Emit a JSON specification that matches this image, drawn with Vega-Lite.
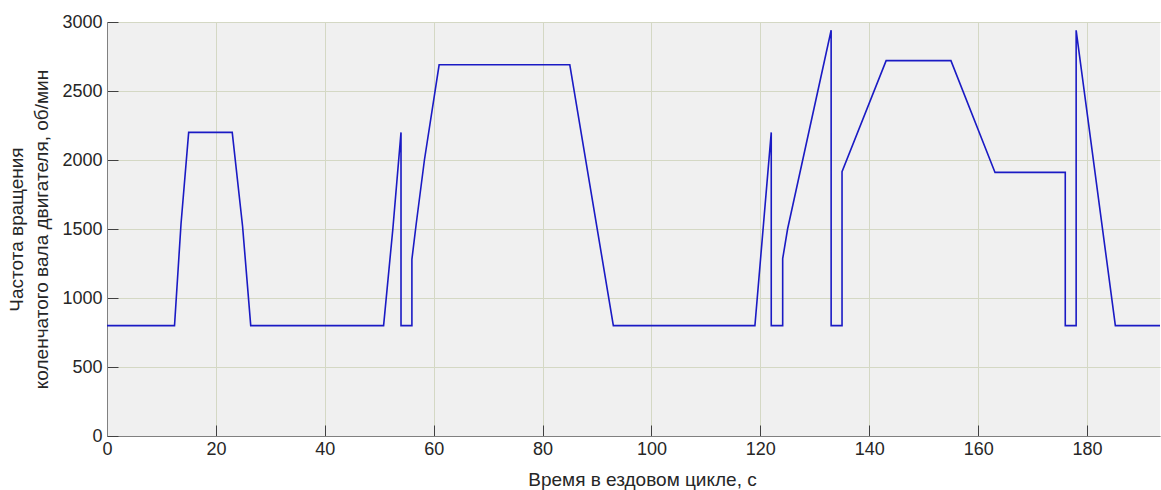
{
  "$schema": "https://vega.github.io/schema/vega-lite/v6.json",
  "width": 1053,
  "height": 414,
  "autosize": {"type": "none"},
  "padding": {"left": 107, "top": 22, "right": 1, "bottom": 54},
  "background": "white",
  "config": {
    "view": {"stroke": null, "fill": "#f0f0f0"},
    "font": "Liberation Sans",
    "axis": {
      "labelFont": "Liberation Sans",
      "titleFont": "Liberation Sans",
      "labelFontSize": 18,
      "titleFontSize": 19,
      "titleFontWeight": "normal",
      "labelColor": "#262626",
      "titleColor": "#262626",
      "gridColor": "#d4d8c4",
      "gridWidth": 1,
      "domainColor": "#808080",
      "tickColor": "#404040",
      "tickSize": -11
    }
  },
  "data": {
    "values": [
      {"i": 0, "t": 0, "rpm": 800},
      {"i": 1, "t": 12.4, "rpm": 800},
      {"i": 2, "t": 13.6, "rpm": 1540},
      {"i": 3, "t": 15, "rpm": 2200},
      {"i": 4, "t": 23, "rpm": 2200},
      {"i": 5, "t": 24.9, "rpm": 1520},
      {"i": 6, "t": 26.4, "rpm": 800},
      {"i": 7, "t": 50.8, "rpm": 800},
      {"i": 8, "t": 52.5, "rpm": 1500},
      {"i": 9, "t": 54, "rpm": 2200},
      {"i": 10, "t": 54, "rpm": 800},
      {"i": 11, "t": 56, "rpm": 800},
      {"i": 12, "t": 56, "rpm": 1280},
      {"i": 13, "t": 56.8, "rpm": 1540},
      {"i": 14, "t": 58.3, "rpm": 2000},
      {"i": 15, "t": 61, "rpm": 2690},
      {"i": 16, "t": 85, "rpm": 2690},
      {"i": 17, "t": 93, "rpm": 800},
      {"i": 18, "t": 119, "rpm": 800},
      {"i": 19, "t": 122, "rpm": 2200},
      {"i": 20, "t": 122, "rpm": 800},
      {"i": 21, "t": 124.1, "rpm": 800},
      {"i": 22, "t": 124.1, "rpm": 1285},
      {"i": 23, "t": 125, "rpm": 1500},
      {"i": 24, "t": 133, "rpm": 2940},
      {"i": 25, "t": 133, "rpm": 800},
      {"i": 26, "t": 135, "rpm": 800},
      {"i": 27, "t": 135, "rpm": 1915},
      {"i": 28, "t": 143.1, "rpm": 2720},
      {"i": 29, "t": 155, "rpm": 2720},
      {"i": 30, "t": 163.1, "rpm": 1910},
      {"i": 31, "t": 176, "rpm": 1910},
      {"i": 32, "t": 176, "rpm": 800},
      {"i": 33, "t": 178, "rpm": 800},
      {"i": 34, "t": 178, "rpm": 2940},
      {"i": 35, "t": 185.2, "rpm": 800},
      {"i": 36, "t": 193.4, "rpm": 800}
    ]
  },
  "mark": {"type": "line", "color": "#1a1ac4", "strokeWidth": 1.6, "clip": true},
  "encoding": {
    "order": {"field": "i", "type": "quantitative"},
    "x": {
      "field": "t",
      "type": "quantitative",
      "scale": {"domain": [0, 193.4], "nice": false, "zero": false},
      "axis": {
        "values": [0, 20, 40, 60, 80, 100, 120, 140, 160, 180],
        "format": "d",
        "title": "Время в ездовом цикле, с",
        "labelPadding": 15,
        "titlePadding": 12,
        "titleX": 535,
        "labelFlush": false
      }
    },
    "y": {
      "field": "rpm",
      "type": "quantitative",
      "scale": {"domain": [0, 3000], "nice": false},
      "axis": {
        "values": [0, 500, 1000, 1500, 2000, 2500, 3000],
        "format": "d",
        "title": ["Частота вращения", "коленчатого вала двигателя, об/мин"],
        "labelPadding": 16,
        "titlePadding": 10,
        "titleLineHeight": 25,
        "labelFlush": false
      }
    }
  }
}
